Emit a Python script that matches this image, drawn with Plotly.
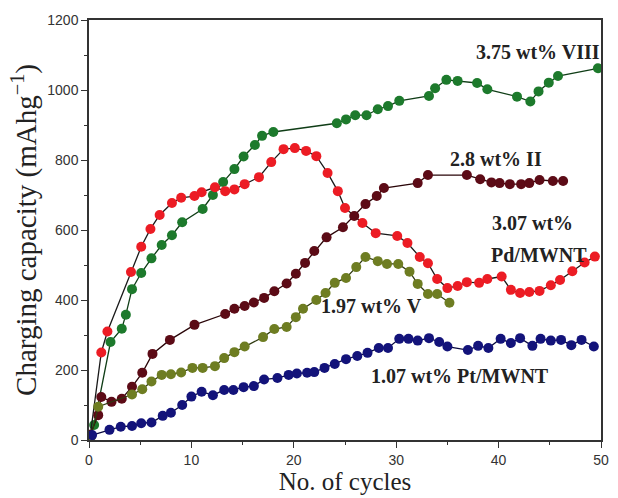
import plotly.graph_objects as go

# 3.75 wt% VIII (green)
green_x = [0, 0.5, 2.1, 3.2, 3.6, 4.2, 5.1, 6.1, 7.1, 8.1, 9.1, 11.1, 12.1, 13.1, 14.2, 15.1, 16.2, 16.9, 18,
           24.2, 25.1, 26, 27.1, 28.2, 29.2, 30.3, 33.2, 33.8, 34.9, 36, 37.9, 38.9, 41.8, 43.1, 43.9, 44.9, 45.8, 49.7]
green_y = [5, 43, 280, 318, 358, 431, 477, 519, 557, 585, 622, 660, 700, 737, 774, 810, 843, 869, 880,
           905, 916, 928, 928, 945, 954, 969, 983, 1005, 1029, 1026, 1020, 1002, 981, 967, 996, 1021, 1040, 1062]

# 3.07 wt% Pd/MWNT (red)
red_x = [0.1, 1.2, 1.8, 4.1, 5.1, 6.0, 6.9, 8.1, 9.0, 10.3, 11.0, 12.3, 13.3, 14.2, 15.2, 16.6, 17.8, 19.0, 20.1,
         21.2, 22.2, 23.3, 24.3, 25.0, 26.7, 28.0, 30.1, 31.1, 32.3, 33.1, 34.0, 35.0, 36.0, 36.9, 38.1, 38.9,
         40.3, 41.2, 42.1, 43.0, 44.0, 45.1, 46.0, 47.2, 48.4, 49.4]
red_y = [8, 250, 310, 480, 552, 603, 643, 677, 692, 697, 708, 722, 711, 716, 731, 751, 794, 831, 834,
         826, 811, 763, 711, 663, 620, 591, 583, 563, 523, 505, 460, 434, 440, 451, 449, 460,
         467, 429, 420, 423, 426, 442, 457, 482, 507, 524]

# 2.8 wt% II (dark red)
dred_x = [0.1, 0.9, 1.2, 2.2, 3.2, 4.2, 5.2, 6.2, 7.9, 10.3, 13.3, 14.2, 15.2, 16.1, 17.1, 18.1, 19.3, 20.2,
          21.1, 22.0, 23.2, 24.8, 25.9, 27.0, 28.1, 28.8, 32.1, 33.1, 36.9, 38.2, 39.3, 40.1, 41.1, 42.2,
          43.0, 44.0, 45.3, 46.3]
dred_y = [15, 71, 123, 109, 118, 152, 192, 246, 286, 329, 360, 375, 383, 393, 406, 425, 447, 475,
          506, 540, 579, 608, 640, 674, 697, 720, 734, 757, 757, 745, 736, 734, 731, 731,
          734, 743, 740, 740]

# 1.97 wt% V (olive)
olive_x = [0.2, 0.9, 4.2, 5.2, 6.1, 7.1, 8.0, 9.0, 10.1, 11.1, 12.3, 13.2, 14.2, 15.2, 17.0, 18.1, 19.3, 20.2,
           20.9, 22.2, 23.1, 24.0, 25.1, 26.1, 27.0, 28.2, 29.1, 30.2, 31.3, 32.1, 33.1, 34.0, 35.2]
olive_y = [10, 95, 130, 145, 167, 186, 188, 193, 206, 206, 211, 234, 251, 267, 294, 317, 323, 351,
           375, 400, 420, 449, 463, 494, 523, 511, 503, 503, 481, 446, 417, 417, 392]

# 1.07 wt% Pt/MWNT (navy)
blue_x = [0.3, 2.0, 3.1, 4.2, 5.1, 6.1, 7.2, 8.0, 9.1, 10.0, 11.0, 12.1, 13.2, 14.1, 15.1, 16.1, 17.1, 18.4,
          19.5, 20.3, 21.3, 22.0, 23.0, 24.0, 25.1, 26.2, 27.2, 28.3, 29.2, 30.3, 31.2, 32.1, 33.2, 34.2, 35.0,
          37.0, 38.0, 39.0, 40.2, 41.2, 42.1, 43.3, 44.1, 45.1, 46.1, 47.1, 48.1, 49.3]
blue_y = [14, 29, 38, 40, 48, 50, 69, 78, 100, 124, 138, 128, 143, 143, 151, 154, 173, 177,
          186, 190, 192, 194, 206, 217, 231, 240, 249, 263, 263, 289, 289, 284, 291, 280, 267,
          257, 269, 263, 289, 277, 291, 269, 289, 284, 286, 271, 286, 267]

series = [
    (green_x, green_y, "#1d7a2c", "#0f3d16", "3.75 wt% VIII"),
    (red_x, red_y, "#ec1c24", "#1a1a1a", "3.07 wt% Pd/MWNT"),
    (dred_x, dred_y, "#5c0b16", "#2a0508", "2.8 wt% II"),
    (olive_x, olive_y, "#6e7d22", "#2f3a10", "1.97 wt% V"),
    (blue_x, blue_y, "#13137a", "#0a0a40", "1.07 wt% Pt/MWNT"),
]

fig = go.Figure()
for xs, ys, mc, lc, name in series:
    fig.add_trace(go.Scatter(
        x=xs, y=ys, mode="lines+markers", name=name,
        line=dict(color=lc, width=1.3),
        marker=dict(color=mc, size=10, line=dict(width=0)),
        showlegend=False,
    ))

labels = [
    (43.8, 1108, "3.75 wt% VIII"),
    (39.7, 802, "2.8 wt% II"),
    (43.3, 620, "3.07 wt%"),
    (43.9, 529, "Pd/MWNT"),
    (27.6, 383, "1.97 wt% V"),
    (36.2, 183, "1.07 wt% Pt/MWNT"),
]
for x, y, t in labels:
    fig.add_annotation(x=x, y=y, text="<b>%s</b>" % t, showarrow=False,
                       font=dict(family="Liberation Serif", size=20, color="#222"))

axis_common = dict(
    showline=True, linecolor="#333", linewidth=1.5, mirror=True,
    ticks="outside", ticklen=6, tickwidth=1.3, tickcolor="#333",
    showgrid=False, zeroline=False,
    tickfont=dict(family="Liberation Sans", size=14, color="#333"),
)
fig.update_xaxes(range=[0, 50], tickvals=[0, 10, 20, 30, 40, 50],
                 minor=dict(ticks="outside", ticklen=3, tickcolor="#333", dtick=5, tick0=0),
                 title=dict(text="No. of cycles", font=dict(family="Liberation Serif", size=25, color="#222"),
                            standoff=2),
                 **axis_common)
fig.update_yaxes(range=[0, 1200], tickvals=[0, 200, 400, 600, 800, 1000, 1200],
                 minor=dict(ticks="outside", ticklen=3, tickcolor="#333", dtick=100, tick0=0),
                 title=dict(text="Charging capacity (mAhg<sup>−1</sup>)",
                            font=dict(family="Liberation Serif", size=29, color="#222"), standoff=2),
                 **axis_common)

fig.update_layout(
    width=618, height=498,
    margin=dict(l=89, r=9, t=20, b=58),
    paper_bgcolor="white", plot_bgcolor="white",
)
fig.write_html("out.html")
